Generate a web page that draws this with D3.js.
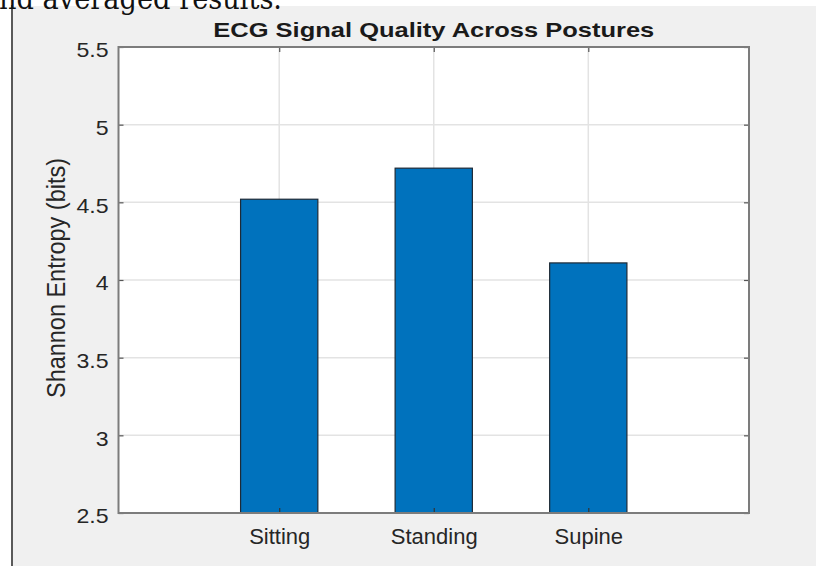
<!DOCTYPE html>
<html>
<head>
<meta charset="utf-8">
<script src="https://cdn.jsdelivr.net/npm/d3@7"></script>
<style>
  html, body { margin: 0; padding: 0; background: #ffffff; }
  svg { display: block; }
</style>
</head>
<body>
<svg id="chart" width="816" height="566"></svg>
<script>
// ---- data ----
const categories = ["Sitting", "Standing", "Supine"];
const entropyValues = [4.52, 4.72, 4.11];
const yTickValues = [2.5, 3, 3.5, 4, 4.5, 5, 5.5];
const yTickLabels = ["2.5", "3", "3.5", "4", "4.5", "5", "5.5"];
const titleText = "ECG Signal Quality Across Postures";
const yLabelText = "Shannon Entropy (bits)";
const pageText = "nd averaged results.";

// ---- layout ----
const W = 816, H = 566;
const plot = { left: 118.5, right: 749, top: 47, bottom: 513 };
const svg = d3.select("#chart");

// gray figure panel
svg.append("rect")
  .attr("x", 12).attr("y", 6).attr("width", W - 12).attr("height", H - 6)
  .attr("fill", "#f0f0f0");
svg.append("line")
  .attr("x1", 12).attr("x2", 12).attr("y1", 5).attr("y2", H)
  .attr("stroke", "#5a5a5a").attr("stroke-width", 2);

// page text fragment (cut off at top, as in the source page)
svg.append("text")
  .attr("x", -1).attr("y", 9)
  .attr("font-family", "'DejaVu Serif', 'Liberation Serif', serif")
  .attr("font-size", 30)
  .attr("fill", "#111")
  .attr("textLength", 283).attr("lengthAdjust", "spacingAndGlyphs")
  .text(pageText);

// scales
const x = d3.scaleLinear().domain([-0.04, 4.04]).range([plot.left, plot.right]);
const y = d3.scaleLinear().domain([2.5, 5.5]).range([plot.bottom, plot.top]);
const barWidthUnits = 0.5;
const catIndex = categories.map((c, i) => i + 1);

// plot background
svg.append("rect")
  .attr("x", plot.left).attr("y", plot.top)
  .attr("width", plot.right - plot.left).attr("height", plot.bottom - plot.top)
  .attr("fill", "#ffffff");

// grid
const grid = svg.append("g").attr("stroke", "#e3e3e3").attr("stroke-width", 1.5);
grid.selectAll("line.h").data(yTickValues.slice(1, -1)).join("line")
  .attr("x1", plot.left).attr("x2", plot.right)
  .attr("y1", d => y(d)).attr("y2", d => y(d));
grid.selectAll("line.v").data(catIndex).join("line")
  .attr("x1", d => x(d)).attr("x2", d => x(d))
  .attr("y1", plot.top).attr("y2", plot.bottom);

// bars
svg.append("g").selectAll("rect").data(entropyValues).join("rect")
  .attr("x", (d, i) => x(catIndex[i] - barWidthUnits / 2))
  .attr("width", (d, i) => x(catIndex[i] + barWidthUnits / 2) - x(catIndex[i] - barWidthUnits / 2))
  .attr("y", d => y(d))
  .attr("height", d => y(2.5) - y(d))
  .attr("fill", "#0072BD")
  .attr("stroke", "#1e2a36").attr("stroke-width", 1.2);

// axes
const axisColor = "#7c7c7c";
const tickLen = 5;
const yAxis = d3.axisLeft(y).tickValues(yTickValues)
  .tickFormat((d, i) => yTickLabels[i]).tickSizeInner(-tickLen).tickSizeOuter(0).tickPadding(10);
const gy = svg.append("g").attr("transform", `translate(${plot.left},0)`).call(yAxis);
gy.select(".domain").remove();
gy.selectAll(".tick line").attr("stroke", "#555").attr("stroke-width", 1.2);
gy.selectAll(".tick text")
  .attr("font-family", "Arial, 'Liberation Sans', Helvetica, sans-serif")
  .attr("font-size", 21).attr("fill", "#262626")
  .attr("dy", "0.47em");

const yAxisR = d3.axisRight(y).tickValues(yTickValues).tickFormat("").tickSizeInner(-tickLen).tickSizeOuter(0);
const gyr = svg.append("g").attr("transform", `translate(${plot.right},0)`).call(yAxisR);
gyr.select(".domain").remove();
gyr.selectAll(".tick line").attr("stroke", "#555").attr("stroke-width", 1.2);

const xAxis = d3.axisBottom(x).tickValues(catIndex)
  .tickFormat((d, i) => categories[i]).tickSizeInner(-tickLen).tickSizeOuter(0).tickPadding(15);
const gx = svg.append("g").attr("transform", `translate(0,${plot.bottom})`).call(xAxis);
gx.select(".domain").remove();
gx.selectAll(".tick line").attr("stroke", "#333").attr("stroke-width", 1.2);
gx.selectAll(".tick text")
  .attr("font-family", "Arial, 'Liberation Sans', Helvetica, sans-serif")
  .attr("font-size", 22).attr("fill", "#262626")
  .attr("dy", "0.71em");

const xAxisT = d3.axisTop(x).tickValues(catIndex).tickFormat("").tickSizeInner(-tickLen).tickSizeOuter(0);
const gxt = svg.append("g").attr("transform", `translate(0,${plot.top})`).call(xAxisT);
gxt.select(".domain").remove();
gxt.selectAll(".tick line").attr("stroke", "#555").attr("stroke-width", 1.2);

// box
svg.append("rect")
  .attr("x", plot.left).attr("y", plot.top)
  .attr("width", plot.right - plot.left).attr("height", plot.bottom - plot.top)
  .attr("fill", "none").attr("stroke", axisColor).attr("stroke-width", 2);

// widen tick labels slightly
gy.selectAll(".tick text").each(function() {
  const len = this.getComputedTextLength();
  d3.select(this).attr("textLength", len * 1.1).attr("lengthAdjust", "spacingAndGlyphs");
});

// title
svg.append("text")
  .attr("x", (plot.left + plot.right) / 2).attr("y", 37)
  .attr("text-anchor", "middle")
  .attr("font-family", "Arial, 'Liberation Sans', Helvetica, sans-serif")
  .attr("font-weight", "bold").attr("font-size", 21).attr("fill", "#1a1a1a")
  .attr("textLength", 441).attr("lengthAdjust", "spacingAndGlyphs")
  .text(titleText);

// y label
svg.append("text")
  .attr("transform", `translate(65,${(plot.top + plot.bottom) / 2 - 2}) rotate(-90)`)
  .attr("text-anchor", "middle")
  .attr("font-family", "Arial, 'Liberation Sans', Helvetica, sans-serif")
  .attr("font-size", 25).attr("fill", "#262626")
  .attr("textLength", 240).attr("lengthAdjust", "spacingAndGlyphs")
  .text(yLabelText);
</script>
</body>
</html>
